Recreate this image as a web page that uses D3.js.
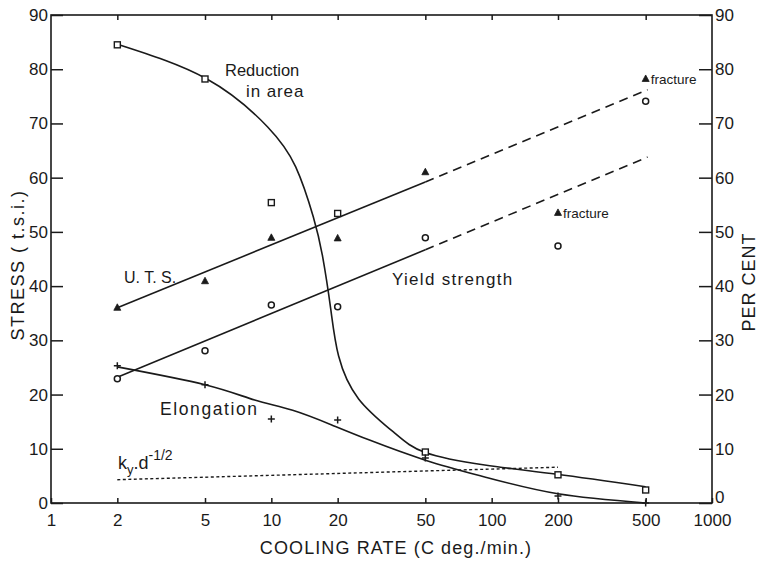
<!DOCTYPE html>
<html><head><meta charset="utf-8">
<script src="https://cdn.jsdelivr.net/npm/d3@7"></script>
<style>
body{margin:0;background:#fff;}
svg{display:block;}
text{font-family:"Liberation Sans","DejaVu Sans",Arial,sans-serif;fill:#1a1a1a;}
</style></head>
<body>
<svg id="chart" width="759" height="561"></svg>
<script>
// ---- data ----
const rates = [2, 5, 10, 20, 50, 200, 500];
const reductionPts = [84.5, 78.2, 55.4, 53.4, 9.4, 5.2, 2.4];
const utsPts = [36.0, 40.9, 48.9, 48.8, 61.0, 53.5, 78.2];
const yieldPts = [22.9, 28.1, 36.5, 36.2, 48.9, 47.4, 74.1];
const elongPts = [25.3, 21.8, 15.5, 15.3, 8.3, 1.3, 0];

// fitted curves as drawn
const reductionCurveX = [2, 5.1, 9.6, 12.9, 15.5, 17.1, 18.6, 20.2, 24.9, 35.8, 50, 93, 198, 500];
const reductionCurveY = [84.6, 78.2, 69.4, 62.0, 52.8, 45.4, 35.8, 27.1, 19.2, 13.1, 9.3, 7.0, 5.3, 3.0];
const elongCurveX = [2, 5, 8.4, 12.5, 18.8, 27.9, 50, 93, 200, 500];
const elongCurveY = [25.1, 21.8, 19.0, 17.1, 14.4, 11.6, 7.9, 4.8, 1.7, 0];

// straight lines (solid part, dashed extension)
const utsLineX = [2, 50, 510];
const utsLineY = [36.0, 59.2, 76.2];
const yieldLineX = [2, 50, 510];
const yieldLineY = [23.2, 46.7, 63.8];
const kyLineX = [2, 200];
const kyLineY = [4.3, 6.6];

const xTicks = [1, 2, 5, 10, 20, 50, 100, 200, 500, 1000];
const yTicks = [0, 10, 20, 30, 40, 50, 60, 70, 80, 90];

// ---- layout ----
const L = 51, R = 712, T = 15, B = 503;
const svg = d3.select("#chart");
const x = d3.scaleLog().domain([1, 1000]).range([L, R]);
const y = d3.scaleLinear().domain([0, 90]).range([B, T]);
const ink = "#1a1a1a";

// frame
svg.append("rect").attr("x", L).attr("y", T).attr("width", R - L).attr("height", B - T)
  .attr("fill", "none").attr("stroke", ink).attr("stroke-width", 1.6);

// left axis
const gl = svg.append("g").attr("transform", `translate(${L},0)`)
  .call(d3.axisLeft(y).tickValues(yTicks).tickSizeInner(-12).tickSizeOuter(0).tickPadding(3).tickFormat(d3.format("d")));
// right axis
const gr = svg.append("g").attr("transform", `translate(${R},0)`)
  .call(d3.axisRight(y).tickValues(yTicks).tickSizeInner(-13).tickSizeOuter(0).tickPadding(3).tickFormat(d3.format("d")));
// bottom axis
const gb = svg.append("g").attr("transform", `translate(0,${B})`)
  .call(d3.axisBottom(x).tickValues(xTicks).tickSizeInner(-5).tickSizeOuter(0).tickPadding(10).tickFormat(d3.format("d")));
// top axis (ticks only)
const gt = svg.append("g").attr("transform", `translate(0,${T})`)
  .call(d3.axisTop(x).tickValues(xTicks.slice(1, -1)).tickSizeInner(-5).tickSizeOuter(0).tickFormat(""));

[gl, gr, gb, gt].forEach(g => {
  g.select(".domain").remove();
  g.selectAll(".tick line").attr("stroke", ink).attr("stroke-width", 1.5);
  g.selectAll("text").attr("font-size", 17).attr("fill", ink);
});
gr.selectAll(".tick").filter(d => d === 0).select("text").attr("dy", "-0.05em");
gb.selectAll(".tick text").attr("dy", "0.78em");

// axis titles
svg.append("text").attr("transform", `translate(24,${(T + B) / 2 + 6}) rotate(-90)`)
  .attr("text-anchor", "middle").attr("font-size", 18).attr("letter-spacing", 1.5).text("STRESS ( t.s.i.)");
svg.append("text").attr("transform", `translate(755,282) rotate(-90)`)
  .attr("text-anchor", "middle").attr("font-size", 18).attr("letter-spacing", 1).text("PER CENT");
svg.append("text").attr("x", 396).attr("y", 554).attr("text-anchor", "middle")
  .attr("font-size", 18).attr("letter-spacing", 1.1).text("COOLING RATE (C deg./min.)");

// ---- lines ----
const line = d3.line().x(d => x(d[0])).y(d => y(d[1]));
const zip = (a, b) => a.map((v, i) => [v, b[i]]);

function seg(xs, ys, i0, i1, dash) {
  svg.append("path").datum(zip(xs.slice(i0, i1 + 1), ys.slice(i0, i1 + 1)))
    .attr("d", line).attr("fill", "none").attr("stroke", ink).attr("stroke-width", 1.6)
    .attr("stroke-dasharray", dash || null);
}
seg(utsLineX, utsLineY, 0, 1);
seg(utsLineX, utsLineY, 1, 2, "9,6");
seg(yieldLineX, yieldLineY, 0, 1);
seg(yieldLineX, yieldLineY, 1, 2, "9,6");
svg.append("path").datum(zip(kyLineX, kyLineY)).attr("d", line).attr("fill", "none")
  .attr("stroke", ink).attr("stroke-width", 1.4).attr("stroke-dasharray", "3,2.5");

const smooth = d3.line().x(d => x(d[0])).y(d => y(d[1])).curve(d3.curveNatural);
svg.append("path").datum(zip(reductionCurveX, reductionCurveY)).attr("d", smooth)
  .attr("fill", "none").attr("stroke", ink).attr("stroke-width", 1.6);
svg.append("path").datum(zip(elongCurveX, elongCurveY)).attr("d", smooth)
  .attr("fill", "none").attr("stroke", ink).attr("stroke-width", 1.6);

// ---- markers ----
const mk = svg.append("g");
rates.forEach((r, i) => {
  mk.append("rect").attr("x", x(r) - 3).attr("y", y(reductionPts[i]) - 3).attr("width", 6).attr("height", 6)
    .attr("fill", "#fff").attr("stroke", ink).attr("stroke-width", 1.4);
  mk.append("circle").attr("cx", x(r)).attr("cy", y(yieldPts[i])).attr("r", 3)
    .attr("fill", "#fff").attr("stroke", ink).attr("stroke-width", 1.5);
  const tx = x(r), ty = y(utsPts[i]);
  mk.append("path").attr("d", `M${tx},${ty - 4}L${tx + 3.5},${ty + 2.5}L${tx - 3.5},${ty + 2.5}Z`)
    .attr("fill", ink).attr("stroke", ink).attr("stroke-width", 0.8);
  const px = x(r), py = y(elongPts[i]);
  mk.append("path").attr("d", `M${px - 3.5},${py}H${px + 3.5}M${px},${py - 3.5}V${py + 3.5}`)
    .attr("stroke", ink).attr("stroke-width", 1.5);
});

// ---- labels ----
function lab(t, xx, yy, fs, ls) {
  return svg.append("text").attr("x", xx).attr("y", yy).attr("font-size", fs || 16)
    .attr("letter-spacing", ls || 0).text(t);
}
lab("Reduction", 225, 76, 16.5);
lab("in area", 246, 97, 17, 0.9);
lab("U. T. S.", 124, 283, 16);
lab("Yield strength", 392, 285, 17, 1.3);
lab("Elongation", 160, 415, 17.5, 1.6);
lab("fracture", x(200) + 5, y(53.5) + 5, 13.5);
lab("fracture", x(500) + 5, y(78.2) + 5, 13.5);
const ky = svg.append("text").attr("x", 118).attr("y", 469).attr("font-size", 18);
ky.append("tspan").text("k");
ky.append("tspan").attr("dy", 5).attr("font-size", 13).text("y");
ky.append("tspan").attr("dy", -5).text(".d");
ky.append("tspan").attr("dy", -9).attr("font-size", 14).text("-1/2");
</script>
</body></html>
